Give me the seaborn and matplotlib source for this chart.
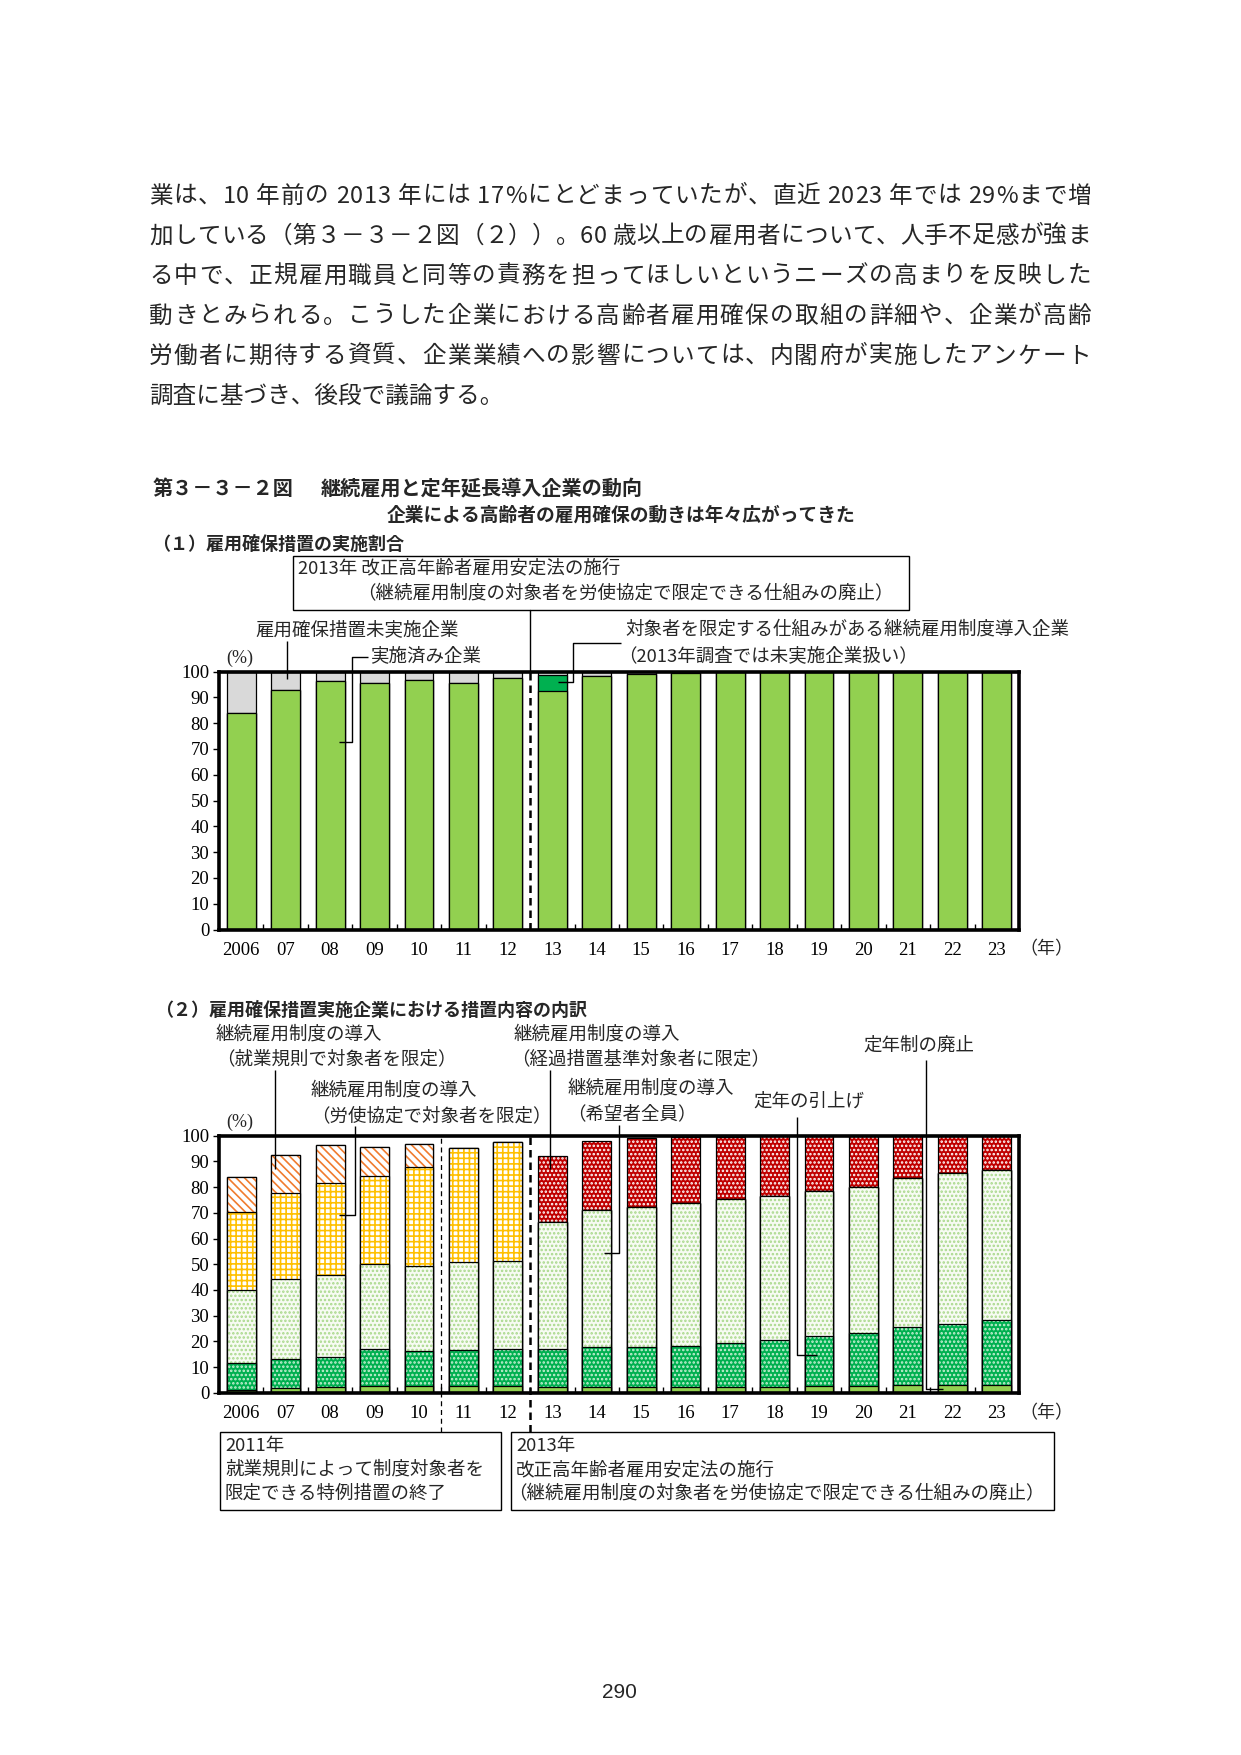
import numpy as np
import seaborn as sns
import matplotlib.pyplot as plt
from matplotlib.patches import Rectangle
from matplotlib.font_manager import FontProperties

sns.set_theme(style='white')
JP = ['Noto Sans CJK JP', 'DejaVu Sans']
SERIF = ['Liberation Serif', 'DejaVu Serif']
plt.rcParams['font.family'] = JP
plt.rcParams['hatch.linewidth'] = 1.2

# 年
years = ['2006', '07', '08', '09', '10', '11', '12', '13', '14', '15',
         '16', '17', '18', '19', '20', '21', '22', '23']

# (1) 雇用確保措置の実施割合 (%)
impl = [84.0, 92.7, 96.3, 95.6, 96.6, 95.7, 97.3, 92.3, 98.1, 99.2,
        99.5, 99.7, 99.8, 99.8, 99.9, 99.7, 99.9, 99.9]
limited = [0, 0, 0, 0, 0, 0, 0, 6.2, 0, 0, 0, 0, 0, 0, 0, 0, 0, 0]

# (2) 措置内容の内訳 (%)
abolish = [1.1, 2.0, 2.1, 2.8, 2.8, 2.8, 2.7, 2.4, 2.4, 2.3,
           2.3, 2.3, 2.3, 2.6, 2.6, 3.0, 3.0, 3.0]
raise_age = [10.6, 11.2, 11.8, 14.1, 13.4, 13.8, 14.2, 14.7, 15.5, 15.3,
             15.7, 17.0, 18.1, 19.3, 20.7, 22.4, 23.7, 25.3]
all_wish = [28.2, 30.9, 31.8, 33.3, 33.1, 34.1, 34.2, 49.3, 53.0, 54.5,
            55.8, 56.1, 56.0, 56.7, 56.9, 58.2, 58.6, 58.5]
labor = [30.3, 33.6, 36.0, 34.0, 38.4, 44.6, 46.3, 0, 0, 0,
         0, 0, 0, 0, 0, 0, 0, 0]
rules = [13.7, 14.6, 14.5, 11.3, 8.9, 0, 0, 0, 0, 0,
         0, 0, 0, 0, 0, 0, 0, 0]
transit = [0, 0, 0, 0, 0, 0, 0, 25.7, 27.0, 26.9,
           25.5, 24.2, 23.3, 21.2, 19.7, 16.1, 14.6, 13.1]

W, H = 1241, 1755
fig = plt.figure(figsize=(W / 100, H / 100), dpi=100)


def frac(l, t, r, b):
    return [l / W, 1 - b / H, (r - l) / W, (b - t) / H]


ax1 = fig.add_axes(frac(219, 671.5, 1019, 929.5))
ax2 = fig.add_axes(frac(219, 1135.7, 1019, 1392.7))


def layer(ax, vals, color, hatch=None, hcolor=None):
    if hatch:
        sns.barplot(x=years, y=list(vals), order=years, color=color, saturation=1,
                    width=0.65, edgecolor=hcolor, linewidth=0, hatch=hatch, ax=ax)
        sns.barplot(x=years, y=list(vals), order=years, color='black', fill=False,
                    width=0.65, linewidth=0.9, ax=ax)
    else:
        sns.barplot(x=years, y=list(vals), order=years, color=color, saturation=1,
                    width=0.65, edgecolor='black', linewidth=0.9, ax=ax)


# (1) 積み上げ: 上から描いて重ねる
tot = np.array(impl) + np.array(limited)
layer(ax1, [100] * len(years), '#D9D9D9')
layer(ax1, tot, '#00B050')
layer(ax1, impl, '#92D050')

# (2)
c1 = np.array(abolish)
c2 = c1 + np.array(raise_age)
c3 = c2 + np.array(all_wish)
c4 = c3 + np.array(labor)
c5 = c4 + np.array(rules)
c6 = c5 + np.array(transit)
layer(ax2, c6, '#C00000', '....', 'white')
layer(ax2, c5, 'white', '\\\\\\\\', '#F07C2E')
layer(ax2, c4, 'white', '+++', '#FFC000')
layer(ax2, c3, '#F7FBF3', '....', '#A8D88A')
layer(ax2, c2, '#00B050', '....', '#C8F0D4')
layer(ax2, c1, '#92D050')

for ax in (ax1, ax2):
    ax.set_ylim(0, 100)
    ax.set_xlim(-0.5, len(years) - 0.5)
    ax.set_yticks(range(0, 101, 10))
    ax.set_xticks(range(len(years)))
    ax.set_xticklabels(years)
    ax.set_xticks(np.arange(0.5, len(years) - 1, 1), minor=True)
    ax.tick_params(axis='x', which='major', length=0, pad=9, labelsize=13.5,
                   labelfontfamily=SERIF, labelcolor='black')
    ax.tick_params(axis='x', which='minor', direction='in', length=4, width=1,
                   bottom=True, color='black')
    ax.tick_params(axis='y', direction='out', length=4, width=1, left=True, pad=3,
                   labelsize=13.5, labelfontfamily=SERIF, labelcolor='black', color='black')
    for s in ax.spines.values():
        s.set_linewidth(2.6)
        s.set_color('black')
    ax.set_xlabel('')
    ax.set_ylabel('')

# 区切り線
ax1.axvline(6.5, color='black', ls=(0, (3, 2)), lw=1.8, zorder=5)
ax1.plot([6.5, 6.5], [100, 123.9], color='black', lw=1.0, clip_on=False)
ax2.plot([4.5, 4.5], [-15.3, 100], color='black', ls=(0, (4, 3)), lw=0.9, clip_on=False, zorder=5)
ax2.plot([6.5, 6.5], [-15.3, 100], color='black', ls=(0, (3, 2)), lw=1.8, clip_on=False, zorder=5)

# 注記レイヤ (ピクセル座標)
ov = fig.add_axes([0, 0, 1, 1])
ov.set_xlim(0, W)
ov.set_ylim(H, 0)
ov.axis('off')


def t(x, y, s, size=13.3, **kw):
    kw.setdefault('ha', 'left')
    ov.text(x, y, s, fontsize=size, va='center', family=kw.pop('family', JP), **kw)


def ln(xs, ys, lw=1.0):
    ov.plot(xs, ys, color='black', lw=lw, solid_capstyle='butt')


# 本文 (両端揃え)
para = ['業は、10 年前の 2013 年には 17%にとどまっていたが、直近 2023 年では 29%まで増',
        '加している（第３－３－２図（２））。60 歳以上の雇用者について、人手不足感が強ま',
        'る中で、正規雇用職員と同等の責務を担ってほしいというニーズの高まりを反映した',
        '動きとみられる。こうした企業における高齢者雇用確保の取組の詳細や、企業が高齢',
        '労働者に期待する資質、企業業績への影響については、内閣府が実施したアンケート',
        '調査に基づき、後段で議論する。']
renderer = fig.canvas.get_renderer()
fp = FontProperties(family=JP, size=17)
for i, s in enumerate(para):
    y = 196 + i * 40
    if i == len(para) - 1:
        t(149, y, s, size=17)
        continue
    widths = [renderer.get_text_width_height_descent(c, fp, ismath=False)[0] for c in s]
    gap = (1091 - 149 - sum(widths)) / (len(s) - 1)
    x = 149
    for c, w in zip(s, widths):
        t(x, y, c, size=17)
        x += w + gap

# タイトル
t(153, 488, '第３－３－２図', size=14.5, weight='bold')
t(321, 488, '継続雇用と定年延長導入企業の動向', size=14.5, weight='bold')
t(621, 515, '企業による高齢者の雇用確保の動きは年々広がってきた', size=13.5,
  weight='bold', ha='center')
t(152, 544, '（１）雇用確保措置の実施割合', size=13, weight='bold')
t(155, 1010, '（２）雇用確保措置実施企業における措置内容の内訳', size=13, weight='bold')

# (1) 注記
ov.add_patch(Rectangle((293, 556), 616, 54, fill=False, ec='black', lw=1.0))
t(298, 568, '2013年 改正高年齢者雇用安定法の施行')
t(357, 594, '（継続雇用制度の対象者を労使協定で限定できる仕組みの廃止）')
t(255, 630, '雇用確保措置未実施企業')
ln([287, 287], [641, 679])
t(370, 656, '実施済み企業')
ln([368, 352, 352, 339], [657, 657, 742, 742])
t(625, 630, '対象者を限定する仕組みがある継続雇用制度導入企業')
t(618, 656, '（2013年調査では未実施企業扱い）')
ln([621, 573, 573, 558], [643, 643, 682, 682])
t(240, 658, '(%)', size=13, family=SERIF, ha='center')
t(1046, 949, '（年）', size=13, ha='center')

# (2) 注記
t(216, 1035, '継続雇用制度の導入')
t(216, 1059, '（就業規則で対象者を限定）')
ln([275, 275], [1070, 1169])
t(311, 1091, '継続雇用制度の導入')
t(311, 1116, '（労使協定で対象者を限定）')
ln([355, 355, 339], [1126, 1215, 1215])
t(514, 1035, '継続雇用制度の導入')
t(511, 1059, '（経過措置基準対象者に限定）')
ln([550, 550], [1070, 1169])
t(568, 1089, '継続雇用制度の導入')
t(567, 1114, '（希望者全員）')
ln([619, 619, 604], [1125, 1253, 1253])
t(753, 1102, '定年の引上げ')
ln([797, 797, 817], [1117, 1355, 1355])
t(863, 1046, '定年制の廃止')
ln([926, 926, 943], [1060, 1389, 1389])
t(240, 1122, '(%)', size=13, family=SERIF, ha='center')
t(1046, 1413, '（年）', size=13, ha='center')

ov.add_patch(Rectangle((220, 1432), 281, 78, fill=False, ec='black', lw=1.0))
t(225, 1446, '2011年')
t(225, 1470, '就業規則によって制度対象者を')
t(225, 1494, '限定できる特例措置の終了')
ov.add_patch(Rectangle((511, 1432), 543, 78, fill=False, ec='black', lw=1.0))
t(516, 1446, '2013年')
t(516, 1470, '改正高年齢者雇用安定法の施行')
t(508, 1494, '（継続雇用制度の対象者を労使協定で限定できる仕組みの廃止）')

t(619, 1692, '290', size=15, family=['Liberation Sans', 'DejaVu Sans'], ha='center')

fig.savefig('out.png', dpi=100, facecolor='white')
